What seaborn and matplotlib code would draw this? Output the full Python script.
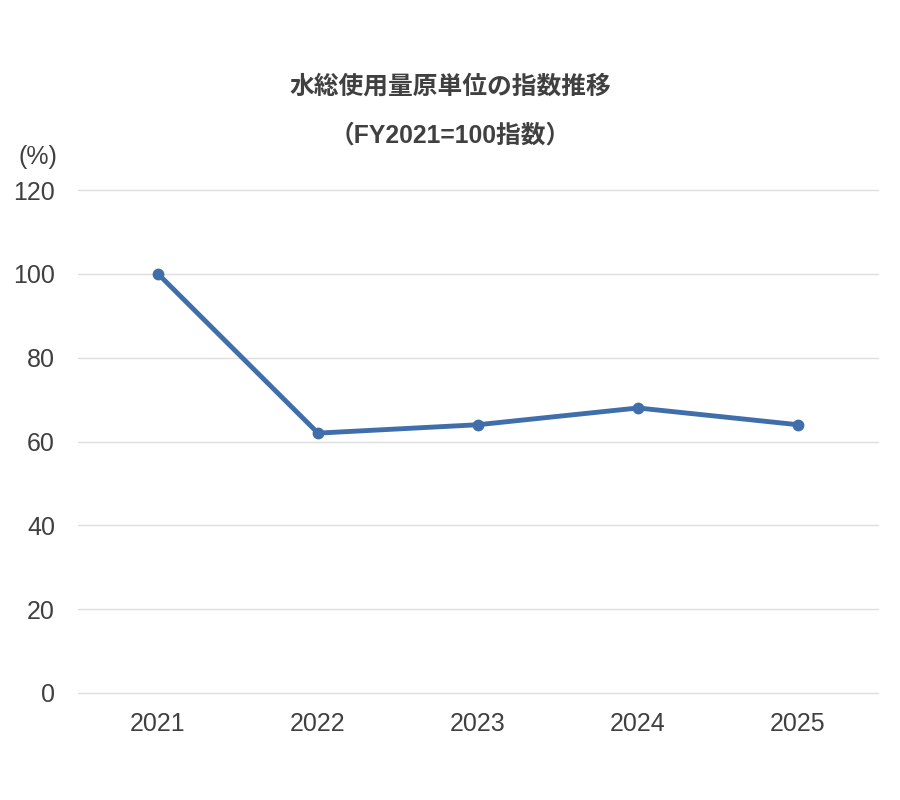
import matplotlib
matplotlib.use("Agg")
import matplotlib.pyplot as plt
import seaborn as sns
import pandas as pd

years = ["2021", "2022", "2023", "2024", "2025"]
index_values = [100, 62, 64, 68, 64]
y_ticks = [0, 20, 40, 60, 80, 100, 120]
title_line1 = "水総使用量原単位の指数推移"
title_line2 = "（FY2021=100指数）"
unit_label = "(%)"

sns.set_theme(style="white")
plt.rcParams['font.family'] = ['Liberation Sans', 'Noto Sans CJK JP', 'DejaVu Sans']

df = pd.DataFrame({"year": years, "value": index_values})

fig = plt.figure(figsize=(9, 8), dpi=100)
ax = fig.add_axes([78/900, 1-693/800, 800/900, (693-190)/800])

line_color = "#3f6eab"
sns.lineplot(data=df, x="year", y="value", ax=ax, color=line_color, linewidth=3.5,
             marker="o", markersize=8.5, markeredgewidth=0, sort=False)

ax.set_xlim(-0.5, 4.5)
ax.set_ylim(0, 120)
ax.set_yticks(y_ticks)
ax.set_xlabel("")
ax.set_ylabel("")
ax.yaxis.grid(True, color="#dedede", linewidth=1)
for gl in ax.get_ygridlines():
    gl.set_clip_on(False)
ax.set_axisbelow(True)
for s in ax.spines.values():
    s.set_visible(False)
ax.tick_params(axis="both", length=0, labelsize=18, colors="#404040")
ax.tick_params(axis="y", pad=16.5)
ax.tick_params(axis="x", pad=14)

fig.text(450/900, 1-87/800, title_line1, ha="center", va="center", fontsize=17.8,
         fontweight="bold", color="#404040")
fig.text(450/900, 1-136/800, title_line2, ha="center", va="center", fontsize=17.8,
         fontweight="bold", color="#404040")
fig.text(38/900, 1-157/800, unit_label, ha="center", va="center", fontsize=18, color="#404040")

fig.savefig("out.png", dpi=100)
